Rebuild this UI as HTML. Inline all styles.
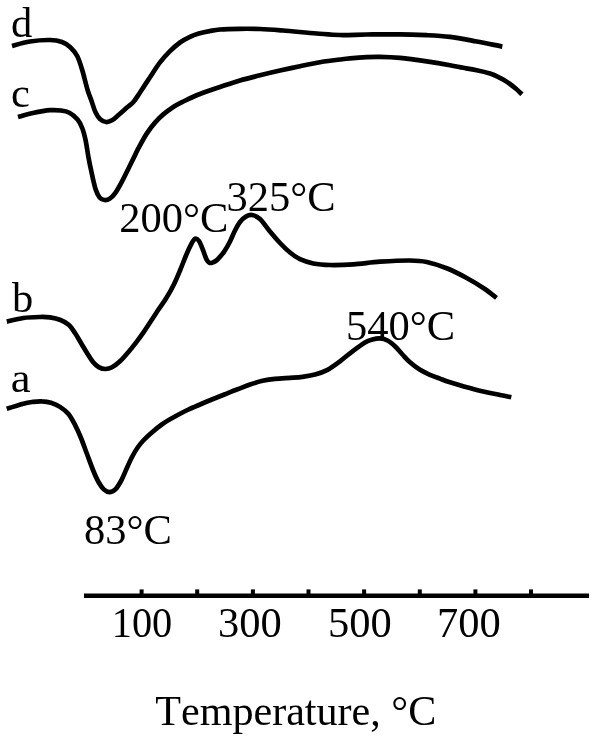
<!DOCTYPE html>
<html><head><meta charset="utf-8"><style>
html,body{margin:0;padding:0;background:#fff}
svg{display:block}
text{font-family:"Liberation Serif",serif;font-size:42.5px;fill:#000;font-kerning:none}
</style></head><body>
<svg width="600" height="741" viewBox="0 0 600 741">
<rect width="600" height="741" fill="#fff"/>
<g fill="none" stroke="#000" stroke-width="4.7" stroke-linecap="butt" stroke-linejoin="round">
<path d="M12.0 46.0 C15.0 45.2 23.7 42.5 30.0 41.5 C36.3 40.5 44.7 39.9 50.0 40.0 C55.3 40.1 58.7 40.8 62.0 42.0 C65.3 43.2 67.5 44.7 70.0 47.0 C72.5 49.3 75.1 52.0 77.2 56.0 C79.3 60.0 80.8 65.3 82.5 71.0 C84.2 76.7 86.0 84.9 87.6 90.0 C89.1 95.1 90.5 98.0 91.8 101.7 C93.1 105.4 94.1 109.4 95.5 112.3 C96.9 115.2 98.2 117.4 100.0 119.0 C101.8 120.6 104.0 121.8 106.0 122.0 C108.0 122.2 109.9 121.5 112.0 120.3 C114.1 119.1 116.0 117.1 118.5 115.0 C121.0 112.9 124.4 109.8 126.9 107.6 C129.4 105.4 131.4 104.2 133.6 101.7 C135.8 99.2 137.3 96.6 140.0 92.5 C142.7 88.4 146.7 82.2 150.0 77.2 C153.3 72.2 156.7 66.7 160.0 62.4 C163.3 58.1 166.7 54.5 170.0 51.2 C173.3 47.9 176.7 44.9 180.0 42.5 C183.3 40.1 186.7 38.3 190.0 36.8 C193.3 35.2 196.7 34.2 200.0 33.2 C203.3 32.2 206.7 31.6 210.0 31.0 C213.3 30.4 215.0 29.9 220.0 29.5 C225.0 29.1 233.3 28.9 240.0 28.8 C246.7 28.7 252.8 28.7 260.0 29.0 C267.2 29.3 273.6 29.8 283.0 30.5 C292.4 31.2 307.2 32.8 316.7 33.5 C326.2 34.2 331.7 34.8 340.0 35.0 C348.3 35.2 356.7 34.6 366.7 34.5 C376.7 34.4 390.0 34.2 400.0 34.3 C410.0 34.4 418.4 34.8 426.7 35.2 C435.0 35.6 441.7 35.9 450.0 36.9 C458.3 37.9 468.0 39.9 476.7 41.5 C485.4 43.1 498.0 45.8 502.3 46.6"/>
<path d="M18.0 117.0 C20.5 116.3 27.7 114.1 33.0 113.0 C38.3 111.9 45.3 110.6 50.0 110.2 C54.7 109.8 57.8 110.1 61.0 110.5 C64.2 110.9 66.6 111.2 69.4 112.7 C72.2 114.2 75.4 117.0 77.6 119.6 C79.8 122.2 81.1 125.1 82.4 128.5 C83.7 131.9 84.6 135.5 85.6 140.2 C86.6 144.9 87.4 151.3 88.4 156.9 C89.4 162.5 90.6 168.2 91.8 173.6 C93.0 179.0 94.3 185.3 95.6 189.3 C96.9 193.3 98.1 195.6 99.6 197.4 C101.1 199.2 102.8 199.8 104.5 200.0 C106.2 200.2 108.0 199.8 109.8 198.6 C111.6 197.4 113.2 195.9 115.2 193.1 C117.2 190.3 119.7 185.8 121.9 181.6 C124.1 177.4 126.4 172.7 128.6 168.2 C130.8 163.7 133.7 157.9 135.3 154.6 C136.9 151.3 136.4 151.9 138.3 148.4 C140.2 144.9 143.9 137.9 146.7 133.6 C149.5 129.3 152.2 125.8 155.0 122.6 C157.8 119.4 160.2 117.0 163.3 114.4 C166.4 111.8 170.0 109.2 173.3 107.0 C176.6 104.8 179.7 103.3 183.3 101.5 C186.9 99.7 191.1 97.7 195.0 96.0 C198.9 94.3 202.5 93.0 206.7 91.5 C210.9 90.0 214.4 88.8 220.0 87.0 C225.6 85.2 233.3 82.5 240.0 80.5 C246.7 78.5 253.3 77.0 260.0 75.3 C266.7 73.6 273.3 72.0 280.0 70.5 C286.7 69.0 293.3 67.6 300.0 66.2 C306.7 64.8 313.3 63.3 320.0 62.2 C326.7 61.1 335.0 60.1 340.0 59.5 C345.0 58.9 345.6 58.8 350.0 58.4 C354.4 58.0 361.7 57.4 366.7 57.1 C371.7 56.8 374.4 56.7 380.0 56.8 C385.6 56.9 392.2 57.1 400.0 57.9 C407.8 58.7 418.4 60.2 426.7 61.4 C435.0 62.6 443.9 64.1 450.0 65.2 C456.1 66.3 458.9 67.0 463.3 67.8 C467.8 68.6 472.2 69.3 476.7 70.3 C481.1 71.2 486.6 72.5 490.0 73.5 C493.4 74.5 494.8 75.2 497.0 76.3 C499.2 77.3 501.3 78.5 503.5 79.8 C505.7 81.1 507.9 82.5 510.0 84.0 C512.1 85.5 514.0 87.1 516.0 88.8 C518.0 90.5 521.0 93.4 522.0 94.3"/>
<path d="M6.8 321.6 C9.6 321.0 17.8 318.8 23.3 318.0 C28.8 317.2 35.5 317.1 40.0 317.0 C44.5 316.9 46.6 316.9 50.0 317.4 C53.4 317.9 57.3 318.7 60.5 320.0 C63.7 321.3 66.6 322.8 69.0 325.0 C71.4 327.2 73.0 330.0 75.0 333.0 C77.0 336.0 79.0 339.7 81.0 343.0 C83.0 346.3 85.0 349.8 87.0 353.0 C89.0 356.2 91.0 359.6 93.0 362.0 C95.0 364.4 96.6 365.9 98.7 367.1 C100.8 368.3 103.3 369.0 105.5 369.0 C107.7 369.0 109.6 368.6 112.0 367.3 C114.4 366.0 117.3 363.8 120.0 361.3 C122.7 358.8 125.3 355.6 128.0 352.5 C130.7 349.4 133.3 346.1 136.0 342.6 C138.7 339.1 141.3 335.5 144.0 331.6 C146.7 327.8 149.7 323.1 152.0 319.5 C154.3 315.9 155.7 313.8 158.0 310.3 C160.3 306.8 163.3 303.0 166.0 298.6 C168.7 294.2 171.7 288.9 174.0 284.2 C176.3 279.5 178.0 275.3 180.0 270.5 C182.0 265.7 184.2 259.8 186.0 255.5 C187.8 251.2 189.5 247.4 191.0 244.6 C192.5 241.8 193.9 239.3 195.2 238.7 C196.5 238.1 197.7 239.1 199.0 241.0 C200.3 242.9 201.8 246.9 203.0 250.0 C204.2 253.1 205.4 257.2 206.5 259.3 C207.6 261.4 208.4 262.3 209.5 262.8 C210.6 263.3 211.8 262.8 213.0 262.3 C214.2 261.8 215.2 261.8 217.0 260.0 C218.8 258.2 221.8 254.9 224.0 251.8 C226.2 248.7 228.2 245.1 230.0 241.5 C231.8 237.9 233.3 233.8 235.0 230.5 C236.7 227.2 238.2 224.3 240.0 222.0 C241.8 219.7 244.0 217.8 246.0 216.6 C248.0 215.4 249.7 214.6 252.0 215.0 C254.3 215.4 257.0 216.2 260.0 219.0 C263.0 221.8 266.7 227.5 270.0 231.5 C273.3 235.5 276.7 239.5 280.0 243.0 C283.3 246.5 286.7 249.8 290.0 252.5 C293.3 255.2 296.1 257.4 300.0 259.2 C303.9 261.0 308.3 262.5 313.3 263.5 C318.3 264.5 323.3 264.9 330.0 265.0 C336.7 265.1 345.0 264.9 353.3 264.3 C361.6 263.8 370.6 262.3 380.0 261.7 C389.4 261.1 402.2 260.4 410.0 260.5 C417.8 260.6 420.6 260.7 426.7 262.0 C432.8 263.3 440.0 265.6 446.7 268.3 C453.4 271.0 460.6 274.7 466.7 278.0 C472.8 281.3 478.3 284.7 483.3 288.0 C488.3 291.3 494.3 296.2 496.5 297.8"/>
<path d="M6.7 408.8 C9.5 407.9 18.9 404.9 23.3 403.7 C27.7 402.5 29.9 402.3 33.0 401.9 C36.1 401.5 39.0 401.2 42.0 401.4 C45.0 401.5 48.0 401.9 51.0 402.8 C54.0 403.7 57.1 405.0 60.0 406.9 C62.9 408.8 66.0 411.0 68.5 414.0 C71.0 417.0 72.9 420.9 75.0 424.9 C77.1 428.9 79.0 433.1 81.0 438.0 C83.0 442.9 85.0 448.7 87.0 454.0 C89.0 459.3 91.1 465.3 93.0 470.0 C94.9 474.7 96.7 478.8 98.5 482.0 C100.3 485.2 102.0 487.7 103.8 489.4 C105.6 491.1 107.4 492.2 109.3 492.2 C111.2 492.2 113.5 491.3 115.4 489.4 C117.4 487.5 119.2 484.2 121.0 481.0 C122.8 477.8 124.2 474.0 126.0 470.0 C127.8 466.0 130.0 460.8 132.0 457.0 C134.0 453.2 136.0 449.8 138.0 447.0 C140.0 444.2 141.6 442.3 143.8 440.0 C146.0 437.7 147.9 435.9 151.0 433.2 C154.1 430.5 158.5 426.8 162.5 424.0 C166.5 421.2 170.8 418.8 175.0 416.5 C179.2 414.2 183.3 412.0 187.5 410.0 C191.7 408.0 195.8 406.3 200.0 404.5 C204.2 402.7 208.3 401.0 212.5 399.3 C216.7 397.6 220.8 396.0 225.0 394.3 C229.2 392.6 233.3 390.9 237.5 389.3 C241.7 387.7 245.8 385.9 250.0 384.5 C254.2 383.1 258.3 381.8 262.5 380.8 C266.7 379.9 270.4 379.3 275.0 378.8 C279.6 378.3 285.4 378.1 290.0 377.8 C294.6 377.5 298.3 377.4 302.5 376.8 C306.7 376.2 310.8 375.7 315.0 374.5 C319.2 373.3 323.3 372.0 327.5 369.8 C331.7 367.6 335.8 364.4 340.0 361.3 C344.2 358.2 348.3 354.4 352.5 351.3 C356.7 348.2 361.7 344.5 365.0 342.5 C368.3 340.5 370.0 340.2 372.5 339.5 C375.0 338.8 377.5 338.2 380.0 338.4 C382.5 338.6 385.0 339.2 387.5 340.5 C390.0 341.8 392.5 344.0 395.0 346.3 C397.5 348.6 400.0 351.8 402.5 354.5 C405.0 357.2 407.1 359.8 410.0 362.3 C412.9 364.9 416.7 367.7 420.0 369.8 C423.3 371.9 426.7 373.3 430.0 374.8 C433.3 376.3 436.7 377.4 440.0 378.6 C443.3 379.9 444.2 380.5 450.0 382.3 C455.8 384.1 466.7 387.4 475.0 389.5 C483.3 391.6 493.9 393.7 500.0 395.0 C506.1 396.3 509.4 396.8 511.3 397.2"/>
</g>
<g stroke="#000" stroke-width="4.4" fill="none">
<line x1="84" y1="595.8" x2="589" y2="595.8"/>
<g stroke-width="4"><line x1="141.6" y1="589.4" x2="141.6" y2="596"/><line x1="197.2" y1="589.4" x2="197.2" y2="596"/><line x1="252.9" y1="589.4" x2="252.9" y2="596"/><line x1="308.5" y1="589.4" x2="308.5" y2="596"/><line x1="364.1" y1="589.4" x2="364.1" y2="596"/><line x1="419.8" y1="589.4" x2="419.8" y2="596"/><line x1="475.4" y1="589.4" x2="475.4" y2="596"/><line x1="531.0" y1="589.4" x2="531.0" y2="596"/></g>
</g>
<text x="11" y="37.4">d</text>
<text x="10.9" y="107.4">c</text>
<text x="12" y="311.6">b</text>
<text transform="translate(10.7,391.6) scale(1.05,1)">a</text>
<text x="119.2" y="232.2">200°C</text>
<text x="226.4" y="210.6">325°C</text>
<text x="346" y="339.5">540°C</text>
<text x="84" y="544">83°C</text>
<text transform="translate(111.7,637.3) scale(0.95,1)">100</text>
<text x="218.1" y="637">300</text>
<text x="328.1" y="637">500</text>
<text x="437.1" y="637">700</text>
<text x="155.3" y="725" style="font-size:42.100px">Temperature, °C</text>
</svg>
</body></html>
